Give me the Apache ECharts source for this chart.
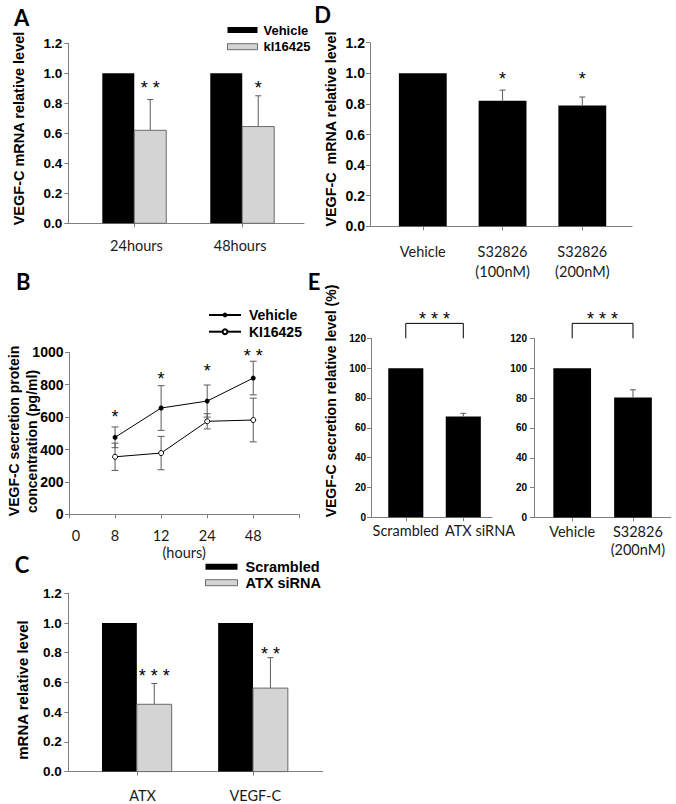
<!DOCTYPE html>
<html><head><meta charset="utf-8">
<script src="https://cdn.jsdelivr.net/npm/echarts@6/dist/echarts.min.js"></script>
<style>html,body{margin:0;padding:0;background:#fff}#c{width:676px;height:804px}</style>
</head><body><div id="c"></div>
<script>
// ---------- Panel A ----------
const aCategories = ['24hours', '48hours'];
const aVehicle = [1.0, 1.0];
const aKI = [0.62, 0.645];
const aKIErr = [0.205, 0.205];
const aStars = ['* *', '*'];
const aStarLevels = [0.935, 0.935];
// ---------- Panel D ----------
const dCategories = ['Vehicle', 'S32826\n(100nM)', 'S32826\n(200nM)'];
const dValues = [1.0, 0.82, 0.79];
const dErr = [0, 0.07, 0.055];
const dStars = ['', '*', '*'];
const dStarLevels = [0.989, 0.989, 0.989];
// ---------- Panel B ----------
const bHours = ['0', '8', '12', '24', '48'];
const bVehicle = [475, 656, 699, 841];
const bVehicleErr = [64, 138, 99, 104];
const bKI = [355, 378, 574, 582];
const bKIErr = [84, 103, 47, 135];
const bStars = ['*', '*', '*', '* *'];
const bStarLevels = [627, 860, 911, 1004];
// ---------- Panel C ----------
const cCategories = ['ATX', 'VEGF-C'];
const cScrambled = [1.0, 1.0];
const cSiRNA = [0.453, 0.562];
const cSiRNAErr = [0.14, 0.205];
const cStars = ['* * *', '* *'];
const cStarLevels = [0.677, 0.822];
// ---------- Panel E ----------
const eLeftCategories = ['Scrambled', 'ATX siRNA'];
const eLeftValues = [100, 67.5];
const eLeftErr = [0, 2.2];
const eRightCategories = ['Vehicle', 'S32826\n(200nM)'];
const eRightValues = [100, 80.3];
const eRightErr = [0, 5.2];
const eStars = ['* * *'];
const eBracket = [120, 130];
const eStarLevels = [136];

// ---------- styles ----------
const AXIS = '#7f7f7f';
const ERR = '#5a5a5a';
const GRAY = '#d4d4d4';
const YFONT = '"Liberation Sans", Arial, sans-serif';
const XFONT = 'Lato, sans-serif';
const STAR_SHIFT = 4.5;
const STAR_SIZE = 18;

const chart = echarts.init(document.getElementById('c'), null, {renderer: 'svg', width: 676, height: 804});

const grids = [
  {left: 68.3, top: 43.3, width: 235.7, height: 180},    // 0 A
  {left: 370, top: 42.7, width: 262, height: 183.6},     // 1 D
  {left: 69, top: 352.3, width: 230.3, height: 162},     // 2 B
  {left: 371, top: 338.3, width: 121, height: 179},      // 3 E left
  {left: 534, top: 338.3, width: 136.7, height: 179.2},  // 4 E right
  {left: 68.3, top: 593.3, width: 254.4, height: 180}    // 5 C
];

// label positions may be nudged (labelShift, in axis units) to match the reference's text placement
function xAx(g, min, max, names, labelShift, margin, extra) {
  const ticks = names.map((_, i) => i + 1);
  const labelVals = ticks.map((t, i) => t + (labelShift[i] || 0));
  return Object.assign({
    gridIndex: g, type: 'value', min: min, max: max,
    axisLine: {show: true, onZero: false, lineStyle: {color: AXIS, width: 1}},
    axisTick: {show: true, customValues: ticks, length: 4, lineStyle: {color: AXIS}},
    axisLabel: {customValues: labelVals,
      formatter: v => { let best = 0; labelVals.forEach((lv, i) => { if (Math.abs(lv - v) < Math.abs(labelVals[best] - v)) best = i; }); return names[best]; },
      color: '#1a1a1a', fontFamily: XFONT, fontSize: 14.5, margin: margin, lineHeight: 18,
      hideOverlap: false, showMinLabel: true, showMaxLabel: true},
    splitLine: {show: false}
  }, extra || {});
}
function yAx(g, max, interval, fmt, fontSize, margin) {
  return {
    gridIndex: g, type: 'value', min: 0, max: max, interval: interval,
    axisLine: {show: true, lineStyle: {color: AXIS, width: 1}},
    axisTick: {show: true, length: 4, lineStyle: {color: AXIS}},
    axisLabel: {formatter: fmt, color: '#000', fontFamily: YFONT, fontWeight: 'bold', fontSize: fontSize, margin: margin},
    splitLine: {show: false}
  };
}
const f1 = v => v.toFixed(1);
const f0 = v => String(Math.round(v));

// B: hours axis, index 0..4 for the hour labels, axis runs to 5
const bAxis = {
  gridIndex: 2, type: 'value', min: 0, max: 5,
  axisLine: {show: true, onZero: false, lineStyle: {color: AXIS, width: 1}},
  axisTick: {show: true, customValues: [0, 1, 2, 3, 4, 5], length: 4, lineStyle: {color: AXIS}},
  axisLabel: {customValues: [0.15, 1, 2, 3, 4],
    formatter: v => bHours[Math.round(v)],
    color: '#1a1a1a', fontFamily: XFONT, fontSize: 14.5, margin: 11.7, lineHeight: 18,
    hideOverlap: false, showMinLabel: true, showMaxLabel: true},
  splitLine: {show: false},
  name: '(hours)', nameLocation: 'middle', nameGap: 28.4,
  nameTextStyle: {fontFamily: XFONT, fontSize: 14.5, color: '#1a1a1a', lineHeight: 16}
};

const xAxes = [
  xAx(0, 0.389, 2.572, aCategories, [0.02, -0.02], 12.7),
  xAx(1, 0.338, 3.623, dCategories, [0, 0, 0], 15.4),
  bAxis,
  xAx(3, 0.395, 2.499, eLeftCategories, [0, 0.29], 4.6),
  xAx(4, 0.372, 2.62, eRightCategories, [0, 0.08], 4.6),
  xAx(5, 0.41, 2.6, cCategories, [0.05, 0.02], 14.4)
];
xAxes[1].axisLabel.lineHeight = 20;

const yAxes = [
  yAx(0, 1.2, 0.2, f1, 13.5, 6),
  yAx(1, 1.2, 0.2, f1, 14, 5),
  yAx(2, 1000, 200, f0, 14, 5.5),
  yAx(3, 120, 20, f0, 10, 5),
  yAx(4, 120, 20, f0, 10, 7),
  yAx(5, 1.2, 0.2, f1, 13.5, 6.5)
];

function barSeries(name, idx, values, offset, width, style) {
  return {
    type: 'custom', name: name, xAxisIndex: idx, yAxisIndex: idx, z: 2, itemStyle: style, silent: true,
    data: values.map((v, i) => [i + 1, v]),
    renderItem: (p, api) => {
      const x = api.value(0), y = api.value(1);
      const a = api.coord([x + offset - width / 2, y]);
      const b = api.coord([x + offset + width / 2, 0]);
      return {type: 'rect', shape: {x: a[0], y: a[1], width: b[0] - a[0], height: b[1] - a[1]},
        style: {fill: style.color, stroke: style.borderColor || null, lineWidth: style.borderWidth || 0}};
    }
  };
}
function errSeries(idx, xs, values, errs, cap, both) {
  return {
    type: 'custom', xAxisIndex: idx, yAxisIndex: idx, z: 3, silent: true,
    data: values.map((v, i) => [xs[i], v, errs[i]]).filter(d => d[2] > 0),
    renderItem: (p, api) => {
      const x = api.value(0), v = api.value(1), e = api.value(2);
      const top = api.coord([x, v + e]);
      const bot = api.coord([x, both ? v - e : v]);
      const st = {stroke: ERR, lineWidth: 1};
      const ch = [
        {type: 'line', shape: {x1: top[0], y1: top[1], x2: bot[0], y2: bot[1]}, style: st},
        {type: 'line', shape: {x1: top[0] - cap / 2, y1: top[1], x2: top[0] + cap / 2, y2: top[1]}, style: st}
      ];
      if (both) ch.push({type: 'line', shape: {x1: bot[0] - cap / 2, y1: bot[1], x2: bot[0] + cap / 2, y2: bot[1]}, style: st});
      return {type: 'group', children: ch};
    }
  };
}
function starSeries(idx, xs, levels, texts) {
  return {
    type: 'custom', xAxisIndex: idx, yAxisIndex: idx, z: 5, silent: true, clip: false,
    data: xs.map((x, i) => [x, levels[i], i]).filter((d, i) => texts[i]),
    renderItem: (p, api) => {
      const c = api.coord([api.value(0), api.value(1)]);
      return {type: 'text', x: c[0], y: c[1] + STAR_SHIFT,
        style: {text: texts[api.value(2)], fill: '#000', font: STAR_SIZE + 'px "Liberation Sans", Arial',
          align: 'center', verticalAlign: 'middle', textAlign: 'center', textVerticalAlign: 'middle'}};
    }
  };
}
function bracketSeries(idx, x1, x2, lo, hi) {
  return {
    type: 'custom', xAxisIndex: idx, yAxisIndex: idx, z: 5, silent: true, clip: false,
    data: [[x1, x2, lo, hi]],
    renderItem: (p, api) => {
      const a = api.coord([api.value(0), api.value(2)]);
      const b = api.coord([api.value(0), api.value(3)]);
      const c = api.coord([api.value(1), api.value(3)]);
      const d = api.coord([api.value(1), api.value(2)]);
      return {type: 'polyline', shape: {points: [a, b, c, d]}, style: {stroke: '#000', lineWidth: 1, fill: null}};
    }
  };
}
const idxs = n => Array.from({length: n}, (_, i) => i + 1);

const BLACK = {color: '#000'};
const GRAYS = {color: GRAY, borderColor: '#6a6a6a', borderWidth: 1};

const series = [
  // A
  barSeries('A_Vehicle', 0, aVehicle, -0.148, 0.296, BLACK),
  barSeries('A_kl16425', 0, aKI, 0.148, 0.296, GRAYS),
  errSeries(0, idxs(2).map(x => x + 0.148), aKI, aKIErr, 6, false),
  starSeries(0, idxs(2).map(x => x + 0.148), aStarLevels, aStars),
  // D
  barSeries('D_values', 1, dValues, 0, 0.6, BLACK),
  errSeries(1, idxs(3), dValues, dErr, 6, false),
  starSeries(1, idxs(3), dStarLevels, dStars),
  // B
  errSeries(2, idxs(4), bVehicle, bVehicleErr, 7, true),
  errSeries(2, idxs(4), bKI, bKIErr, 7, true),
  {type: 'line', name: 'B_Vehicle', xAxisIndex: 2, yAxisIndex: 2, z: 4, silent: true,
   data: bVehicle.map((v, i) => [i + 1, v]), symbol: 'circle', symbolSize: 5,
   itemStyle: {color: '#000'}, lineStyle: {color: '#000', width: 1}},
  {type: 'line', name: 'B_KI16425', xAxisIndex: 2, yAxisIndex: 2, z: 4, silent: true,
   data: bKI.map((v, i) => [i + 1, v]), symbol: 'circle', symbolSize: 5, showAllSymbol: true,
   itemStyle: {color: '#fff', borderColor: '#000', borderWidth: 1}, lineStyle: {color: '#000', width: 1}},
  starSeries(2, idxs(4), bStarLevels, bStars),
  // E left
  barSeries('E_left', 3, eLeftValues, 0, 0.61, BLACK),
  errSeries(3, idxs(2), eLeftValues, eLeftErr, 6, false),
  bracketSeries(3, 1, 2, eBracket[0], eBracket[1]),
  starSeries(3, [1.5], eStarLevels, eStars),
  // E right
  barSeries('E_right', 4, eRightValues, 0, 0.62, BLACK),
  errSeries(4, idxs(2), eRightValues, eRightErr, 6, false),
  bracketSeries(4, 1, 2, eBracket[0], eBracket[1]),
  starSeries(4, [1.5], eStarLevels, eStars),
  // C
  barSeries('C_Scrambled', 5, cScrambled, -0.15, 0.30, BLACK),
  barSeries('C_ATX siRNA', 5, cSiRNA, 0.15, 0.30, GRAYS),
  errSeries(5, idxs(2).map(x => x + 0.15), cSiRNA, cSiRNAErr, 6, false),
  starSeries(5, idxs(2).map(x => x + 0.15), cStarLevels, cStars)
];

const legendText = (size, gap) => ({fontFamily: YFONT, fontWeight: 'bold', fontSize: size, color: '#000', lineHeight: 16, padding: [0, 0, 0, gap]});
const stripName = n => n.slice(n.indexOf('_') + 1);
const legends = [
  {data: [{name: 'A_Vehicle', icon: 'rect', itemStyle: BLACK}, {name: 'A_kl16425', icon: 'rect', itemStyle: GRAYS}],
   left: 227, top: 22, orient: 'vertical', itemWidth: 30, itemHeight: 6, itemGap: 0.7, padding: 0,
   selectedMode: false, formatter: stripName, textStyle: legendText(13, 1)},
  {data: ['B_Vehicle', 'B_KI16425'],
   left: 208, top: 307, orient: 'vertical', itemWidth: 32, itemHeight: 6, itemGap: 0.7, padding: 0,
   selectedMode: false, formatter: stripName, textStyle: legendText(14, 3)},
  {data: [{name: 'C_Scrambled', icon: 'rect', itemStyle: BLACK}, {name: 'C_ATX siRNA', icon: 'rect', itemStyle: GRAYS}],
   left: 205, top: 558.7, orient: 'vertical', itemWidth: 32, itemHeight: 6, itemGap: 0, padding: 0,
   selectedMode: false, formatter: stripName, textStyle: legendText(14.5, 3)}
];

function txt(text, x, y, font, rot) {
  return {type: 'text', x: x, y: y, rotation: rot || 0, silent: true,
    style: {text: text, font: font, fill: '#000', align: 'center', verticalAlign: 'middle',
      textAlign: 'center', textVerticalAlign: 'middle'}};
}
const LET = 'bold 22px Lato, sans-serif';
const R = Math.PI / 2;
const graphics = [
  txt('A', 21.7, 17.5, LET), txt('D', 322.5, 14.2, LET), txt('B', 23.3, 281.7, LET),
  txt('E', 314, 281.7, LET), txt('C', 22, 564, LET),
  txt('VEGF-C mRNA relative level', 19, 128.5, 'bold 14.5px "Liberation Sans", Arial', R),
  txt('VEGF-C  mRNA relative level', 331, 129, 'bold 14.3px "Liberation Sans", Arial', R),
  txt('VEGF-C secretion protein', 14, 431, 'bold 14px "Liberation Sans", Arial', R),
  txt('concentration (pg/ml)', 31.5, 441.5, 'bold 14px "Liberation Sans", Arial', R),
  txt('VEGF-C secretion relative level (%)', 331, 401, 'bold 14px "Liberation Sans", Arial', R),
  txt('mRNA relative level', 22.5, 690, 'bold 15px "Liberation Sans", Arial', R)
];

chart.setOption({
  animation: false,
  backgroundColor: '#fff',
  grid: grids,
  xAxis: xAxes,
  yAxis: yAxes,
  legend: legends,
  series: series,
  graphic: graphics
});
</script>
</body></html>
